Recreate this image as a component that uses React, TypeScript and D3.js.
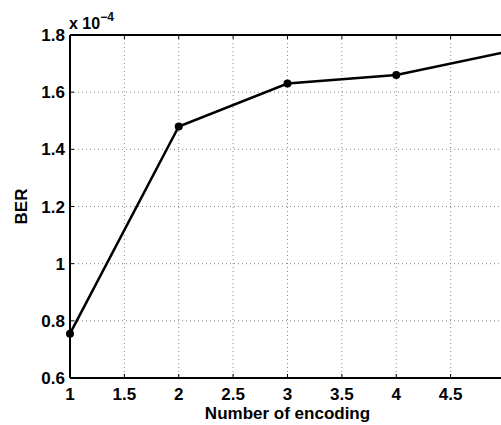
import React from "react";
import * as d3 from "d3";

const encodings = [1, 2, 3, 4, 5];
const berValues = [0.755, 1.48, 1.63, 1.66, 1.74];
const xTicks = [1, 1.5, 2, 2.5, 3, 3.5, 4, 4.5, 5];
const xTickLabels = ["1", "1.5", "2", "2.5", "3", "3.5", "4", "4.5"];
const yTicks = [0.6, 0.8, 1, 1.2, 1.4, 1.6, 1.8];

export default function App() {
  const width = 501;
  const height = 425;
  const margin = { top: 35, left: 70 };
  const innerWidth = 435;
  const innerHeight = 343;

  const x = d3.scaleLinear().domain([1, 5]).range([0, innerWidth]);
  const y = d3.scaleLinear().domain([0.6, 1.8]).range([innerHeight, 0]);

  const points = encodings.map((e, i) => ({ e, v: berValues[i] }));
  const line = d3
    .line<{ e: number; v: number }>()
    .x((d) => x(d.e))
    .y((d) => y(d.v));

  const font = "'Liberation Sans', Arial, sans-serif";
  const fs = 17;

  return (
    <svg
      width={width}
      height={height}
      style={{ position: "absolute", left: 0, top: 0, background: "#fff" }}
      fontFamily={font}
      fontWeight="bold"
    >
      <g transform={`translate(${margin.left},${margin.top})`}>
        {/* grid */}
        {xTicks.slice(1).map((t) => (
          <line
            key={"gx" + t}
            x1={x(t)}
            x2={x(t)}
            y1={0}
            y2={innerHeight}
            stroke="#888"
            strokeWidth={1}
            strokeDasharray="1 3"
          />
        ))}
        {yTicks.slice(1, -1).map((t) => (
          <line
            key={"gy" + t}
            x1={0}
            x2={innerWidth}
            y1={y(t)}
            y2={y(t)}
            stroke="#888"
            strokeWidth={1}
            strokeDasharray="1 3"
          />
        ))}

        {/* ticks */}
        {xTicks.map((t) => (
          <g key={"tx" + t}>
            <line x1={x(t)} x2={x(t)} y1={innerHeight} y2={innerHeight - 4} stroke="#000" />
            <line x1={x(t)} x2={x(t)} y1={0} y2={4} stroke="#000" />
          </g>
        ))}
        {yTicks.map((t) => (
          <line key={"ty" + t} x1={0} x2={4} y1={y(t)} y2={y(t)} stroke="#000" />
        ))}

        {/* frame */}
        <line x1={0} x2={innerWidth} y1={0} y2={0} stroke="#000" strokeWidth={2} />
        <line x1={0} x2={innerWidth} y1={innerHeight} y2={innerHeight} stroke="#000" strokeWidth={2} />
        <line x1={0} x2={0} y1={0} y2={innerHeight} stroke="#000" strokeWidth={2} />
        <line x1={innerWidth} x2={innerWidth} y1={0} y2={innerHeight} stroke="#000" strokeWidth={2} />

        {/* data */}
        <path d={line(points) ?? ""} fill="none" stroke="#000" strokeWidth={2.5} />
        {points.map((p) => (
          <circle key={p.e} cx={x(p.e)} cy={y(p.v)} r={4} fill="#000" />
        ))}

        {/* tick labels */}
        {xTickLabels.map((t) => (
          <text key={"lx" + t} x={x(+t)} y={innerHeight + 22} textAnchor="middle" fontSize={fs}>
            {t}
          </text>
        ))}
        {yTicks.map((t) => (
          <text
            key={"ly" + t}
            x={-5}
            y={y(t)}
            dy="0.36em"
            textAnchor="end"
            fontSize={fs}
          >
            {t}
          </text>
        ))}

        {/* exponent */}
        <text x={-1} y={-6} fontSize={16}>
          x 10
          <tspan dy={-8} fontSize={12}>
            −4
          </tspan>
        </text>

        {/* axis labels */}
        <text x={innerWidth / 2} y={innerHeight + 41} textAnchor="middle" fontSize={fs}>
          Number of encoding
        </text>
        <text
          transform={`translate(${-43},${innerHeight / 2}) rotate(-90)`}
          textAnchor="middle"
          fontSize={fs}
        >
          BER
        </text>
      </g>
    </svg>
  );
}
